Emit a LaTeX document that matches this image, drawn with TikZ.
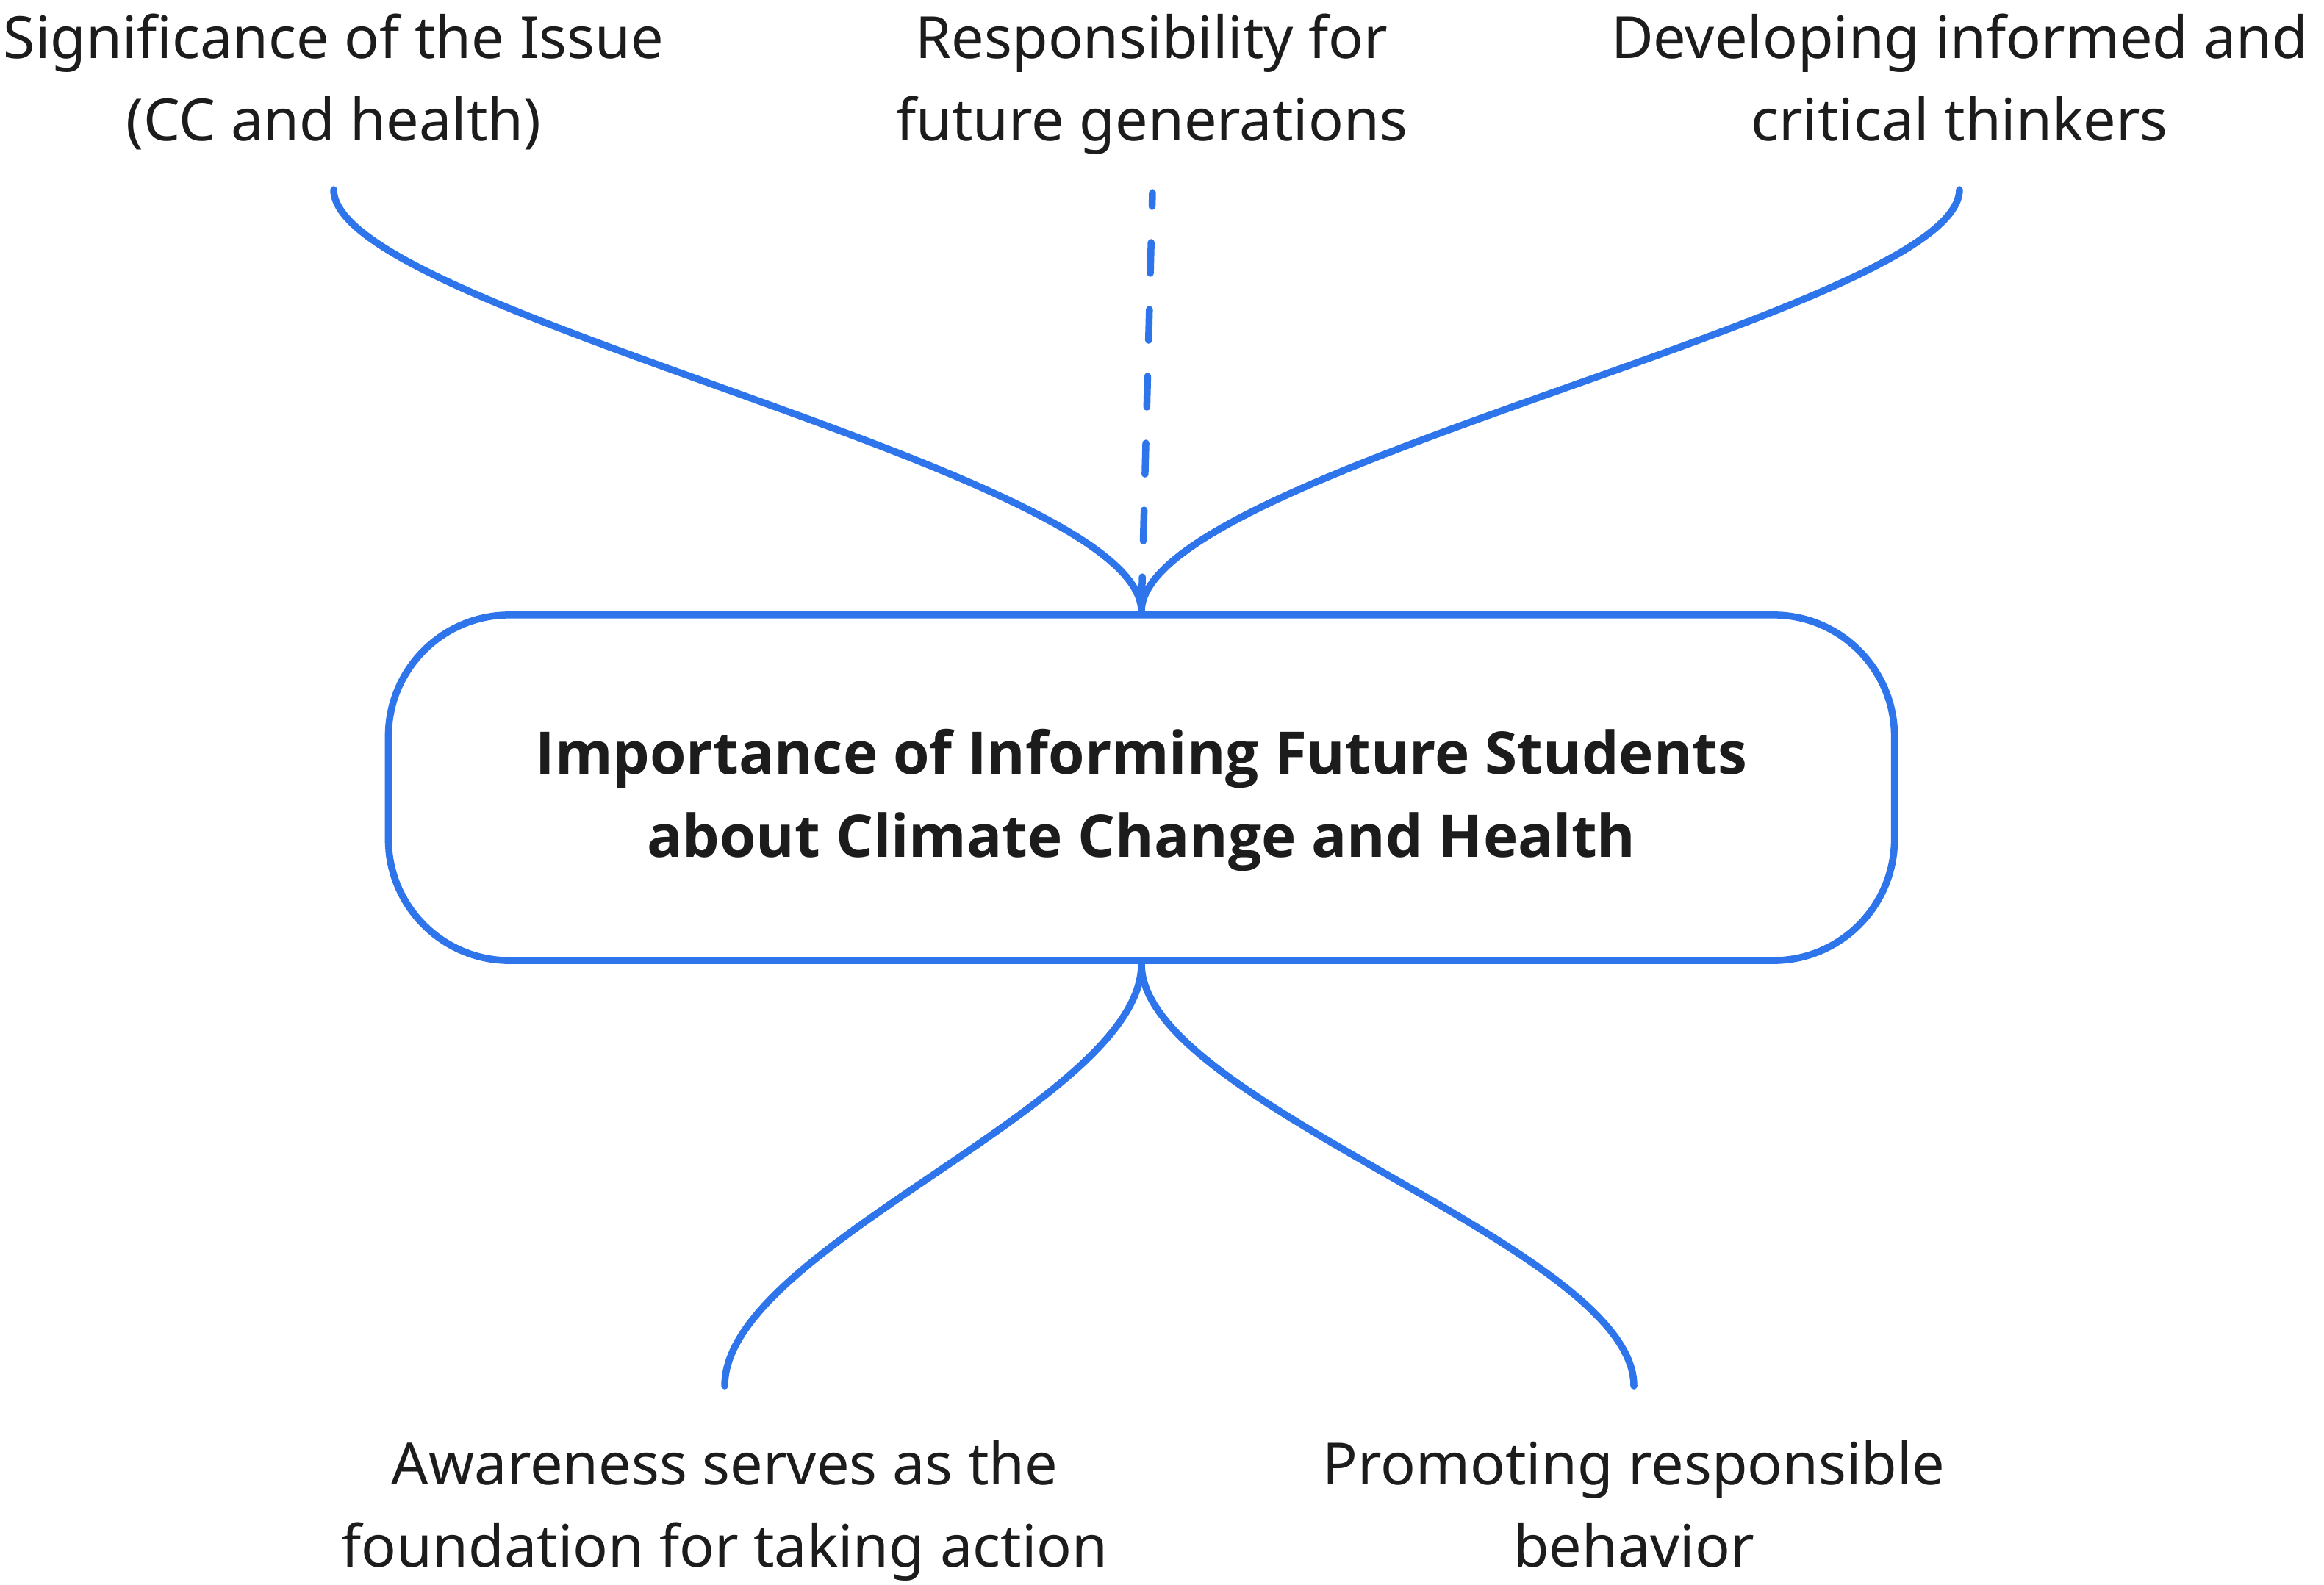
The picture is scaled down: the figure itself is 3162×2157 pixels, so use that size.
\documentclass[tikz,border=0pt]{standalone}
\usepackage{fontspec}
\setmainfont{Noto Sans}
\newfontfamily\hubfont{Open Sans}
\definecolor{mapblue}{RGB}{46,117,235}
\definecolor{ink}{RGB}{28,28,28}
\begin{document}
\begin{tikzpicture}[x=0.01cm,y=-0.01cm,
  lbl/.style={align=center,text=ink,font=\fontsize{22.5}{31.6}\selectfont,inner sep=0pt},
  hubtxt/.style={align=center,text=ink,font=\hubfont\fontsize{22.76}{32}\selectfont\bfseries,inner sep=0pt},
  conn/.style={draw=mapblue,line width=0.095cm,line cap=round},
  dashconn/.style={conn,dash pattern=on 0.42cm off 0.49cm,dash phase=0.23cm},
  hub/.style={draw=mapblue,line width=0.095cm,rounded corners=1.65cm,minimum width=20.48cm,minimum height=4.7cm,inner sep=0pt}]
\useasboundingbox (0,0) rectangle (3162,2157);
\fill[white] (0,0) rectangle (3162,2157);

% labels
\node[lbl,anchor=base] (t1) at (454,191) {Significance of the Issue\\(CC and health)};
\node[lbl,anchor=base] (t2) at (1567,191) {Responsibility for\\future generations};
\node[lbl,anchor=base] (t3) at (2666,191) {Developing informed and\\critical thinkers};
\node[hub] (hub) at (1553,1072) {};
\node[hubtxt,anchor=base] (hubtext) at (1553,1166) {Importance of Informing Future Students\\about Climate Change and Health};
\node[lbl,anchor=base] (b1) at (986,2132) {Awareness serves as the\\foundation for taking action};
\node[lbl,anchor=base] (b2) at (2223,2132) {Promoting responsible\\behavior};

% connector ends
\coordinate (s1) at (454,258);
\coordinate (s2) at (1568,262);
\coordinate (s3) at (2666,258);
\coordinate (e1) at (986,1886);
\coordinate (e2) at (2223,1886);

% connectors
\draw[conn] (s1) .. controls +(0,166) and +(0,-192) .. (hub.north);
\draw[conn] (s3) .. controls +(0,166) and +(0,-192) .. (hub.north);
\draw[dashconn] (s2) -- (hub.north);
\draw[conn] (hub.south) .. controls +(0,190) and +(0,-190) .. (e1);
\draw[conn] (hub.south) .. controls +(0,190) and +(0,-190) .. (e2);
\end{tikzpicture}
\end{document}
